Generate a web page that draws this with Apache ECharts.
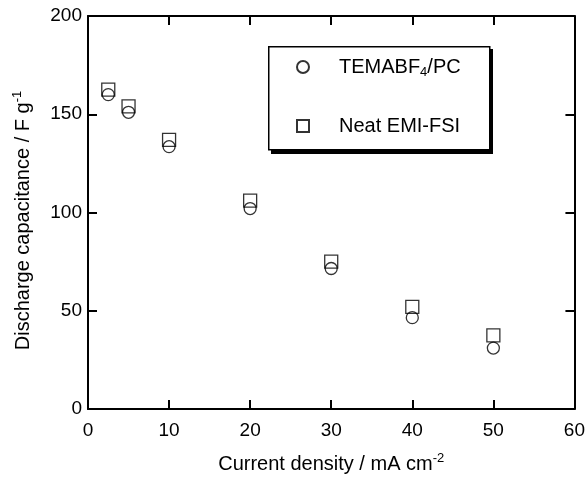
<!DOCTYPE html>
<html>
<head>
<meta charset="utf-8">
<script src="https://cdn.jsdelivr.net/npm/echarts@6/dist/echarts.min.js"></script>
<style>
  html, body { margin: 0; padding: 0; background: #fff; }
  #chart { width: 588px; height: 479px; }
</style>
</head>
<body>
<div id="chart"></div>
<script>
// 데이터
var currentDensity = [2.5, 5, 10, 20, 30, 40, 50];
var temaValues = [160, 151, 133.5, 102, 71.5, 46.5, 31];
var emiValues = [162.5, 154, 137, 106, 75, 52, 37.5];
var xTicks = [0, 10, 20, 30, 40, 50, 60];
var yTicks = [0, 50, 100, 150, 200];

var chartDom = document.getElementById('chart');
var myChart = echarts.init(chartDom);

var fontName = 'Liberation Sans';

function pairs(xs, ys) {
	return xs.map(function (x, i) { return [x, ys[i]]; });
}

var tickStyle = { inside: true, length: 9, lineStyle: { color: '#000', width: 2 } };
var lineStyle = { onZero: false, lineStyle: { color: '#000', width: 2 } };

var titleRich = {
	t: { fontFamily: fontName, fontSize: 20, color: '#000', lineHeight: 24 },
	sup: { fontFamily: fontName, fontSize: 13, color: '#000', lineHeight: 10, verticalAlign: 'top' }
};

var option = {
	backgroundColor: '#fff',
	animation: false,
	grid: { left: 88, top: 16, right: 9, bottom: 69 },
	// 범례 상자 + 그림자
	graphic: [{
		type: 'rect',
		left: 271,
		top: 49,
		z: 1,
		shape: { width: 222, height: 105 },
		style: { fill: '#000' }
	}, {
		type: 'rect',
		left: 268,
		top: 46,
		z: 2,
		shape: { x: 0.75, y: 0.75, width: 221, height: 103 },
		style: { fill: '#fff', stroke: '#000', lineWidth: 1.5 }
	}],
	legend: {
		orient: 'vertical',
		left: 268,
		top: 46,
		z: 10,
		padding: [11, 20, 10, 28],
		itemGap: 37,
		itemWidth: 12,
		itemHeight: 12,
		formatter: function (name) {
			if (name === 'TEMABF4/PC') {
				return '{t|TEMABF}{sub|4}{t|/PC}';
			}
			return '{t|' + name + '}';
		},
		textStyle: {
			padding: [0, 0, 0, 25],
			rich: {
				t: { fontFamily: fontName, fontSize: 20, color: '#000', lineHeight: 24 },
				sub: { fontFamily: fontName, fontSize: 13, color: '#000', lineHeight: 10, verticalAlign: 'bottom' }
			}
		},
		data: ['TEMABF4/PC', 'Neat EMI-FSI']
	},
	xAxis: [{
		type: 'value',
		min: 0,
		max: 60,
		interval: 10,
		axisLine: lineStyle,
		axisTick: tickStyle,
		splitLine: { show: false },
		axisLabel: { fontFamily: fontName, fontSize: 19, color: '#000', margin: 12 },
		name: '{t|Current density / mA cm}{sup|-2}',
		nameLocation: 'middle',
		nameGap: 43,
		nameTextStyle: { rich: titleRich }
	}, {
		type: 'value',
		position: 'top',
		min: 0,
		max: 60,
		interval: 10,
		axisLine: lineStyle,
		axisTick: tickStyle,
		axisLabel: { show: false },
		splitLine: { show: false }
	}],
	yAxis: [{
		type: 'value',
		min: 0,
		max: 200,
		interval: 50,
		axisLine: lineStyle,
		axisTick: tickStyle,
		splitLine: { show: false },
		axisLabel: { fontFamily: fontName, fontSize: 19, color: '#000', margin: 6 },
		name: '{t|Discharge capacitance / F g}{sup|-1}',
		nameLocation: 'middle',
		nameRotate: 90,
		nameGap: 53,
		nameTextStyle: { padding: [0, 16, 0, 0], rich: titleRich }
	}, {
		type: 'value',
		position: 'right',
		min: 0,
		max: 200,
		interval: 50,
		axisLine: lineStyle,
		axisTick: tickStyle,
		axisLabel: { show: false },
		splitLine: { show: false }
	}],
	series: [
		{
			name: 'TEMABF4/PC',
			type: 'scatter',
			symbol: 'circle',
			symbolSize: 12,
			data: pairs(currentDensity, temaValues),
			itemStyle: { color: 'rgba(0,0,0,0)', borderColor: '#000', borderWidth: 1.3 },
			emphasis: { disabled: true },
			z: 3
		},
		{
			name: 'Neat EMI-FSI',
			type: 'scatter',
			symbol: 'rect',
			symbolSize: 13,
			data: pairs(currentDensity, emiValues),
			itemStyle: { color: 'rgba(0,0,0,0)', borderColor: '#000', borderWidth: 1.3 },
			emphasis: { disabled: true },
			z: 2
		}
	]
};

myChart.setOption(option);
</script>
</body>
</html>
